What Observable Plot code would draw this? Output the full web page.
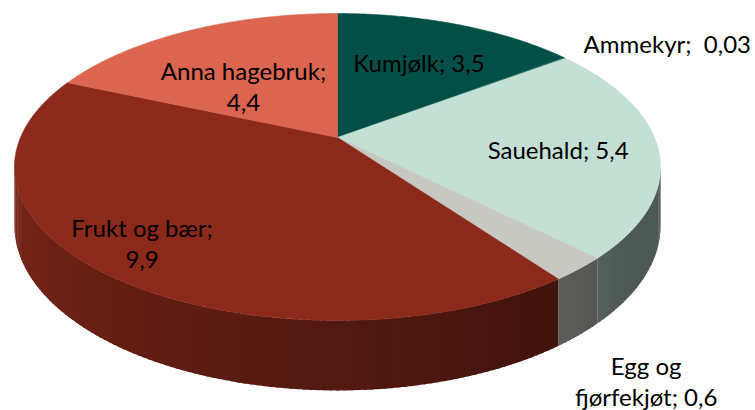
<!DOCTYPE html>
<html><head><meta charset="utf-8">
<script src="https://cdn.jsdelivr.net/npm/d3@7"></script>
<script src="https://cdn.jsdelivr.net/npm/@observablehq/plot@0.6"></script>
<style>
body{margin:0;background:#fff}
#chart svg text{white-space:pre}
</style>
</head><body><div id="chart"></div>
<script>
// ---- data ----
const categories = ["Kumjølk", "Ammekyr", "Sauehald", "Egg og fjørfekjøt", "Frukt og bær", "Anna hagebruk"];
const values = [3.5, 0.03, 5.4, 0.6, 9.9, 4.4];

// ---- styling / layout ----
const colors = ["#024f47", "#1f6a60", "#c4dfd4", "#c8c8c2", "#8b2a1b", "#db654f"];
const labelAngle = [26.8, 58.4, 96.3, 149.4, 221.0, 320.0];   // degrees clockwise from top
const labelRadius = [0.632, 1.393, 0.690, 1.453, 0.827, 0.495]; // fraction of pie radius
const labelGap = [" ", "  ", " ", " ", " ", " "];
const labelBreak = [null, null, null, 2, 3, 2];

// ---- 3D pie projection (perspective tilt) ----
const RX = 317, RY = 147.8, PERSP = -0.1922, DEPTH = 56.5;
function proj(theta, s, h) {
  const t = theta * Math.PI / 180;
  const u = s * Math.sin(t), v = -s * Math.cos(t);
  const w = 1 + PERSP * v;
  return [RX * u / w, (RY * v + h) / w];
}
function shade(color, theta) {
  const f = Math.max(0.40, Math.min(0.9, 0.41 + 0.47 * (theta - 130) / 130));
  const c = d3.rgb(color);
  return d3.rgb(c.r * f, c.g * f, c.b * f).formatHex();
}

const total = d3.sum(values);
const slices = [];
let acc = 0;
values.forEach((v, i) => {
  const a0 = acc / total * 360;
  acc += v;
  const a1 = acc / total * 360;
  slices.push({i, a0, a1});
});

// top faces
const topPts = [];
for (const s of slices) {
  const id = "top" + s.i;
  const col = colors[s.i];
  topPts.push({id, x: 0, y: 0, c: col});
  const n = Math.max(2, Math.ceil((s.a1 - s.a0) / 0.5));
  for (let j = 0; j <= n; j++) {
    const th = s.a0 + (s.a1 - s.a0) * j / n;
    const [x, y] = proj(th, 1, 0);
    topPts.push({id, x, y, c: col});
  }
  topPts.push({id, x: 0, y: 0, c: col});
}

// side faces (front half only); strips overlap slightly so no seams show
const sidePts = [];
for (const s of slices) {
  const lo = Math.max(s.a0, 100), hi = Math.min(s.a1, 260);
  if (hi <= lo) continue;
  const n = Math.max(1, Math.ceil(hi - lo));
  for (let j = 0; j < n; j++) {
    const ta = lo + (hi - lo) * j / n;
    const tb = j < n - 1 ? lo + (hi - lo) * (j + 1) / n + 0.5 : hi;
    const id = "side" + s.i + "_" + j;
    const col = shade(colors[s.i], (ta + tb) / 2);
    for (const [th, h] of [[ta, 0], [tb, 0], [tb, DEPTH], [ta, DEPTH], [ta, 0]]) {
      const [x, y] = proj(th, 1, h);
      sidePts.push({id, x, y, c: col});
    }
  }
}

// labels
const labels = categories.map((cat, i) => {
  const full = cat + ";" + labelGap[i] + String(values[i]).replace(".", ",");
  let text = full;
  if (labelBreak[i] != null) {
    const tok = full.split(" ");
    text = tok.slice(0, labelBreak[i]).join(" ") + "\n" + tok.slice(labelBreak[i]).join(" ");
  }
  const [x, y] = proj(labelAngle[i], labelRadius[i], 0);
  return {x, y, text};
});

const chart = Plot.plot({
  width: 755,
  height: 410,
  margin: 0,
  x: {domain: [-337, 418], range: [0, 755], axis: null},
  y: {domain: [-137, 273], range: [0, 410], axis: null},
  color: {type: "identity"},
  marks: [
    Plot.line(sidePts, {x: "x", y: "y", z: "id", fill: "c", stroke: "none", curve: "linear"}),
    Plot.line(topPts, {x: "x", y: "y", z: "id", fill: "c", stroke: "c", strokeWidth: 0.6, curve: "linear"}),
    Plot.text(labels, {x: "x", y: "y", text: "text", fontSize: 24, fontFamily: "Lato", fill: "#000",
      lineHeight: 1.29, lineAnchor: "middle", textAnchor: "middle"})
  ]
});
chart.style.background = "#fff";
document.getElementById("chart").appendChild(chart);
</script>
</body></html>
